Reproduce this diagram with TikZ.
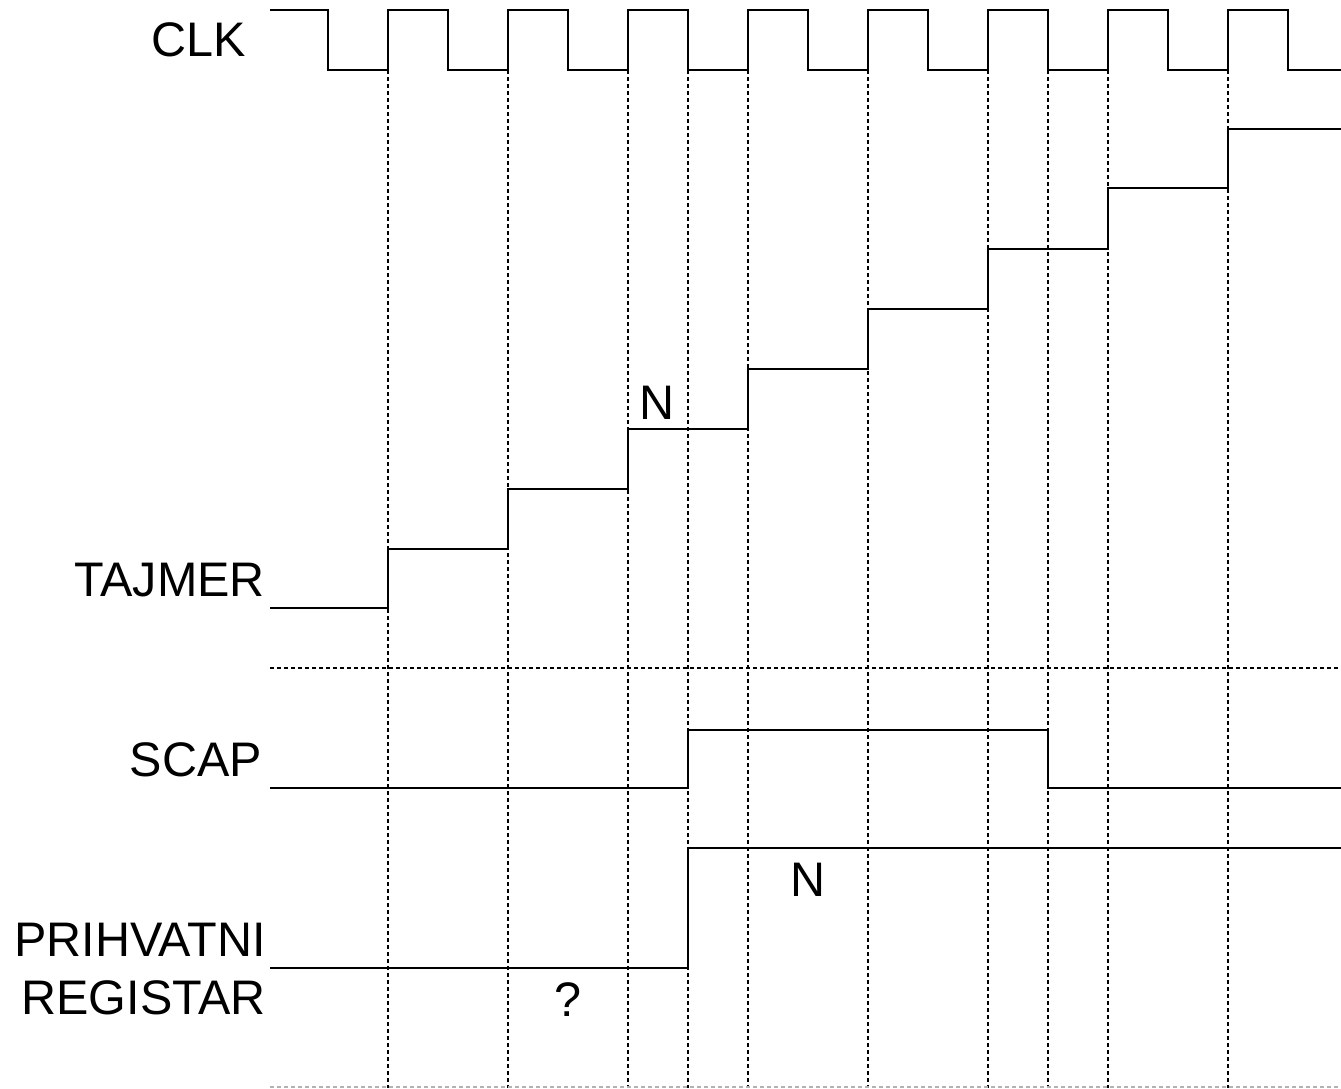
\documentclass[tikz,border=0pt]{standalone}
\usepackage{fontspec}
\setmainfont{Liberation Sans}
\begin{document}
\begin{tikzpicture}[x=1pt,y=-1pt,
  sig/.style={line width=2.5pt,line join=miter},
  grid/.style={line width=2pt,dash pattern=on 4pt off 3pt},
  gridgray/.style={line width=1.8pt,dash pattern=on 4pt off 3pt,gray!60},
  lbl/.style={font=\fontsize{48.5}{52}\selectfont,inner sep=0pt,anchor=east},
  txt/.style={font=\fontsize{48.5}{52}\selectfont,inner sep=0pt}]
\useasboundingbox (0,0) rectangle (1341,1088);
% vertical dashed guides
\foreach \x in {388,508,628,688,748,868,988,1048,1108,1228}
  \draw[grid] (\x,70) -- (\x,1088);
\draw[grid] (270,668) -- (1341,668);
\draw[gridgray] (270,1087) -- (1341,1087);
% CLK
\draw[sig] (270,10) -- (328,10) -- (328,70) -- (388,70) -- (388,10) -- (448,10) -- (448,70)
  -- (508,70) -- (508,10) -- (568,10) -- (568,70) -- (628,70) -- (628,10) -- (688,10) -- (688,70)
  -- (748,70) -- (748,10) -- (808,10) -- (808,70) -- (868,70) -- (868,10) -- (928,10) -- (928,70)
  -- (988,70) -- (988,10) -- (1048,10) -- (1048,70) -- (1108,70) -- (1108,10) -- (1168,10) -- (1168,70)
  -- (1228,70) -- (1228,10) -- (1288,10) -- (1288,70) -- (1341,70);
% TAJMER
\draw[sig] (270,608) -- (388,608) -- (388,549) -- (508,549) -- (508,489) -- (628,489) -- (628,429)
  -- (748,429) -- (748,369) -- (868,369) -- (868,309) -- (988,309) -- (988,249) -- (1108,249)
  -- (1108,188) -- (1228,188) -- (1228,129) -- (1341,129);
% SCAP
\draw[sig] (270,788) -- (688,788) -- (688,730) -- (1048,730) -- (1048,788) -- (1341,788);
% PRIHVATNI REGISTAR
\draw[sig] (270,968) -- (688,968) -- (688,848) -- (1341,848);
% labels
\node[lbl] (clk) at (246,40) {CLK};
\node[lbl] (tajmer) at (265,580) {TAJMER};
\node[lbl] (scap) at (262,760) {SCAP};
\node[lbl] (prih) at (266,940) {PRIHVATNI};
\node[lbl] (reg) at (266,998) {REGISTAR};
\node[txt] (n1) at (657,403) {N};
\node[txt] (n2) at (808,880) {N};
\node[txt] (q) at (568,1000) {?};
\end{tikzpicture}
\end{document}
